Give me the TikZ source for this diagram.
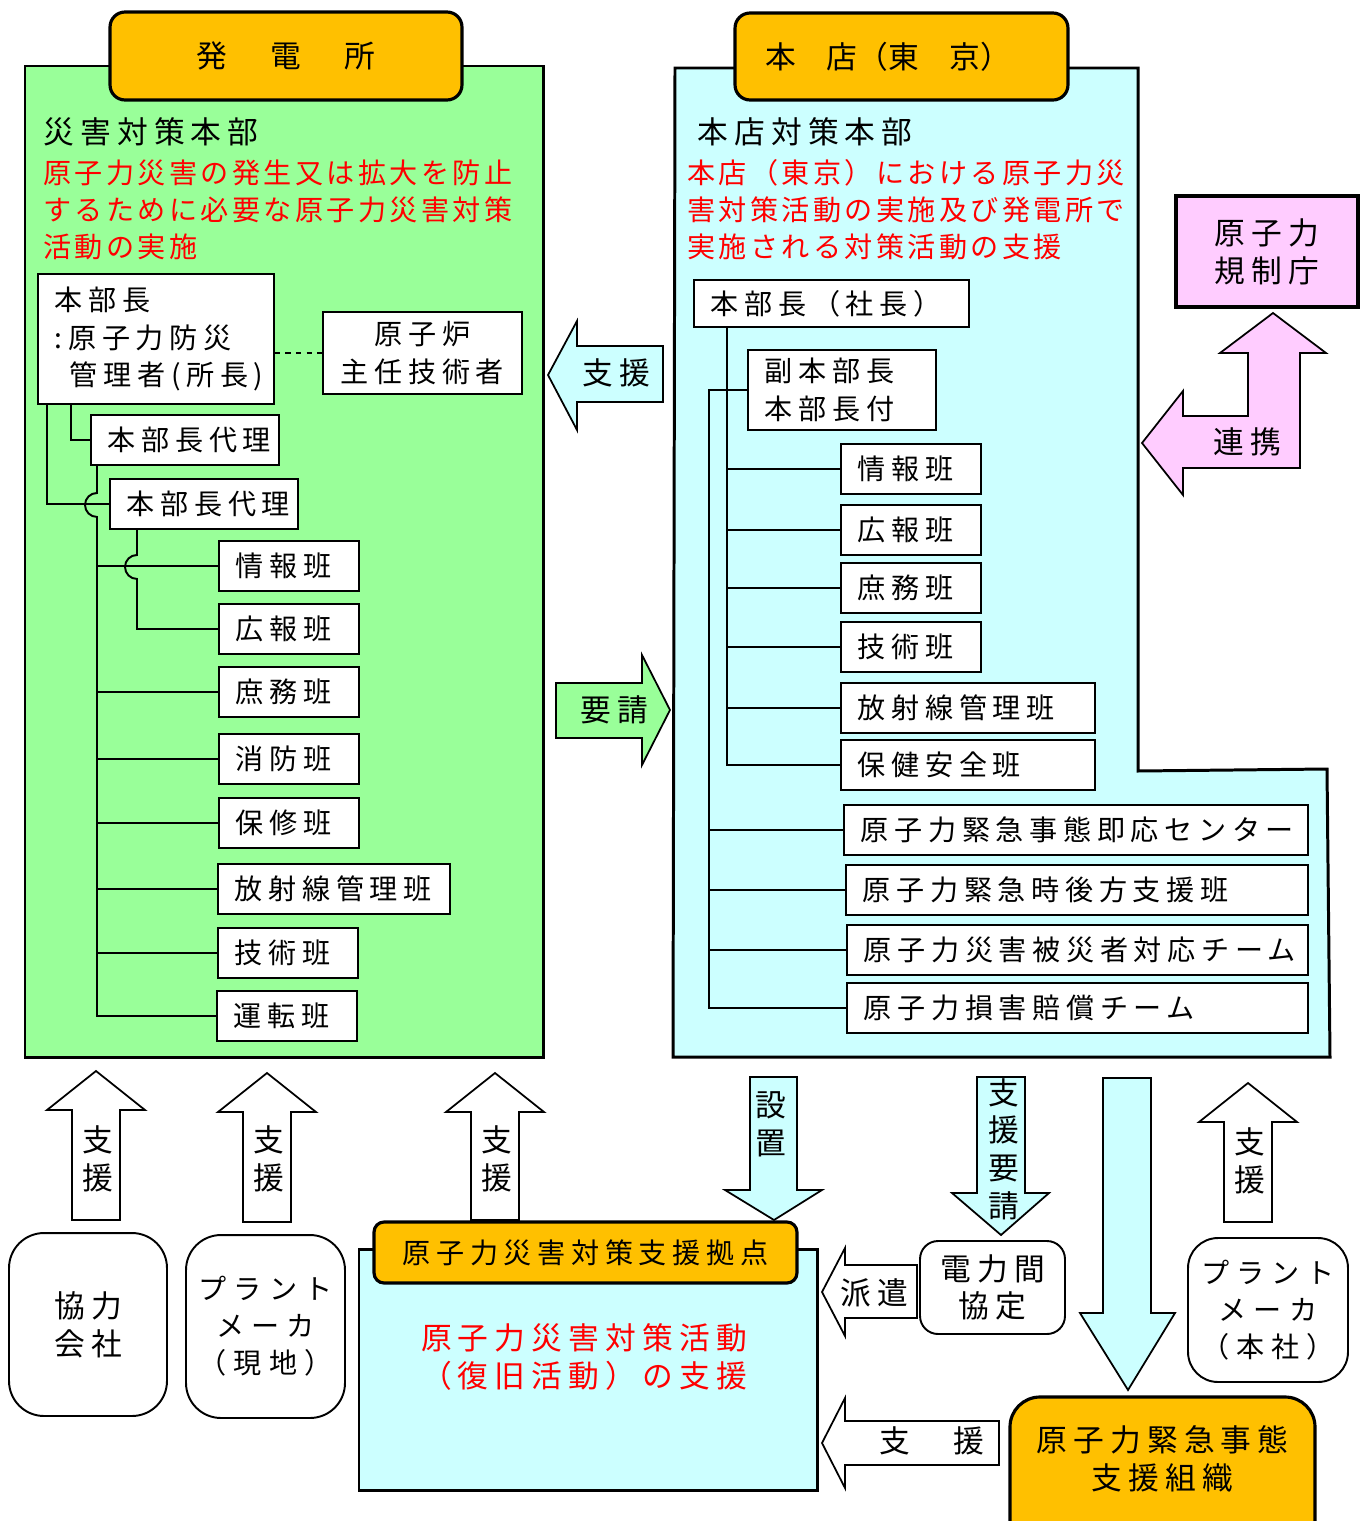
\documentclass[tikz,border=0pt]{standalone}
\usepackage{fontspec}
\setmainfont{Noto Sans CJK JP}
\newfontfamily\jp[LetterSpace=20]{Noto Sans CJK JP}
\newfontfamily\jpred[LetterSpace=12]{Noto Sans CJK JP}
\newfontfamily\jpkana[LetterSpace=25]{Noto Sans CJK JP}
\usepackage{tikz}
\usetikzlibrary{positioning}
\definecolor{PlantGreen}{RGB}{153,255,153}
\definecolor{HQCyan}{RGB}{204,255,255}
\definecolor{TabOrange}{RGB}{255,192,0}
\definecolor{NraPink}{RGB}{255,204,255}

\begin{document}
\begin{tikzpicture}[x=0.02cm, y=-0.02cm,
    lbl/.style={font=\jp\fontsize{16}{21.5}\selectfont},
    big/.style={font=\jp\fontsize{17.5}{21.5}\selectfont},
    plain/.style={font=\jpkana\fontsize{16}{21}\selectfont},
    redtxt/.style={font=\jpred\fontsize{16}{21}\selectfont, text=red, align=left, anchor=west, inner sep=0pt},
    panel/.style={draw, line width=1.7pt},
    tab/.style={draw, fill=TabOrange, line width=1.8pt, rounded corners=0.3cm, big},
    ban/.style={draw, fill=white, line width=1.1pt, minimum height=1cm, inner xsep=0.34cm, inner ysep=0pt, anchor=west, align=left, lbl, text width=#1},
    link/.style={line width=1.1pt},
    blk/.style={draw, line width=1pt},
    rbox/.style={draw, fill=white, line width=1.1pt, rounded corners=0.6cm, align=center, big}]
    \useasboundingbox (0,0) rectangle (1364,1521);

    % Power station
    \draw[panel, fill=PlantGreen] (25,66) rectangle (543,1057);
    \node[tab, minimum width=7.04cm, minimum height=1.76cm] (hatsuden) at (286,56) {発　電　所};
    \node[big, anchor=west, inner sep=0pt] (saigai) at (43,132) {災害対策本部};
    \node[redtxt] (saigaiaim) at (43,210) {原子力災害の発生又は拡大を防止\\するために必要な原子力災害対策\\活動の実施};

    \node[ban=4.04cm, minimum height=2.6cm] (honbu) at (37,339) {本部長\\:原子力防災\\\hspace*{0.3cm}管理者(所長)};
    \node[ban=3.3cm, align=center, minimum height=1.64cm] (gensiro) at (322,353) {原子炉\\主任技術者};
    \node[ban=3.08cm] (dai1) at (90,440) {本部長代理};
    \node[ban=3.08cm] (dai2) at (109,504) {本部長代理};
    \node[ban=2.12cm] (jouhou) at (218,566) {情報班};
    \node[ban=2.12cm] (kouhou) at (218,629) {広報班};
    \node[ban=2.12cm] (shomu) at (218,692) {庶務班};
    \node[ban=2.12cm] (shobou) at (218,759) {消防班};
    \node[ban=2.12cm] (hoshu) at (218,823) {保修班};
    \node[ban=3.96cm] (houkan) at (217,889) {放射線管理班};
    \node[ban=2.12cm] (gijutsu) at (217,953) {技術班};
    \node[ban=2.12cm] (unten) at (216,1016) {運転班};

    % Power station lines
    \coordinate (ltrunk) at (97,465);
    \draw[link, dashed] (gensiro.west -| honbu.east) -- (gensiro.west);
    \draw[link] (honbu.south west) ++(34,0) |- (dai1.west);
    \draw[link] (honbu.south west) ++(10,0) |- (dai2.west);
    \draw[link] (dai1.south -| ltrunk) -- ++(0,27) arc[start angle=90, end angle=270, radius=0.24cm] |- (unten.west);
    \draw[link] (dai2.south west) ++(28,0) -- ++(0,25) arc[start angle=90, end angle=270, radius=0.24cm] |- (kouhou.west);
    \foreach \t in {jouhou,shomu,shobou,hoshu,houkan,gijutsu}
      \draw[link] (\t.west -| ltrunk) -- (\t.west);

    % Head office
    \draw[panel, fill=HQCyan] (675,68) -- (1138,68) -- (1138,771) -- (1327,769) -- (1330,1057) -- (673,1057) -- cycle;
    \node[tab, font=\fontsize{17.5}{21}\selectfont, minimum width=6.66cm, minimum height=1.74cm, text width=5.46cm, align=left, inner xsep=0.6cm] (honten) at (901.5,56.5) {本　店（東　京）};
    \node[big, anchor=west, inner sep=0pt] (taisaku) at (697,132) {本店対策本部};
    \node[redtxt] (taisakuaim) at (687,210) {本店（東京）における原子力災\\害対策活動の実施及び発電所で\\実施される対策活動の支援};

    \node[ban=4.82cm, minimum height=0.94cm] (hq) at (693,303.5) {本部長（社長）};
    \node[ban=3.08cm, minimum height=1.6cm] (fuku) at (747,390) {副本部長\\本部長付};
    \node[ban=2.12cm] (rjouhou) at (840,469) {情報班};
    \node[ban=2.12cm] (rkouhou) at (840,530) {広報班};
    \node[ban=2.12cm] (rshomu) at (840,588) {庶務班};
    \node[ban=2.12cm] (rgijutsu) at (840,647) {技術班};
    \node[ban=4.4cm] (rhoukan) at (840,708) {放射線管理班};
    \node[ban=4.4cm] (rhoken) at (840,765) {保健安全班};
    \node[ban=8.6cm] (sokuou) at (843,830) {原子力緊急事態即応センター};
    \node[ban=8.56cm] (kouhoushien) at (845,890) {原子力緊急時後方支援班};
    \node[ban=8.54cm] (hisai) at (846,950) {原子力災害被災者対応チーム};
    \node[ban=8.54cm] (baisho) at (846,1008) {原子力損害賠償チーム};

    % Head office lines
    \coordinate (rtrunkA) at (727,327);
    \coordinate (rtrunkB) at (709,390);
    \draw[link] (hq.south -| rtrunkA) |- (rhoken.west);
    \foreach \t in {rjouhou,rkouhou,rshomu,rgijutsu,rhoukan}
      \draw[link] (\t.west -| rtrunkA) -- (\t.west);
    \draw[link] (fuku.west) -- (rtrunkB) |- (baisho.west);
    \foreach \t in {sokuou,kouhoushien,hisai}
      \draw[link] (\t.west -| rtrunkB) -- (\t.west);

    % Regulator
    \node[draw, fill=NraPink, line width=1.8pt, minimum width=3.64cm, minimum height=2.22cm, big, align=center] (kisei) at (1267,251.5) {原子力\\規制庁};
    \draw[blk, fill=NraPink] (1273,313) -- (1326,353) -- (1300,353) -- (1300,468) -- (1183,468) -- (1183,495) -- (1142,443) -- (1183,391) -- (1183,416) -- (1248,416) -- (1248,353) -- (1220,353) -- cycle;
    \node[big] (renkei) at (1247,442) {連携};

    % Arrows between station and head office
    \draw[blk, fill=HQCyan] (548,375) -- (577,321) -- (577,346) -- (663,346) -- (663,402) -- (577,402) -- (577,430) -- cycle;
    \node[big] (shienL) at (616,373) {支援};
    \draw[blk, fill=PlantGreen] (556,683) -- (642,683) -- (642,655) -- (670,710) -- (642,765) -- (642,738) -- (556,738) -- cycle;
    \node[big] (yousei) at (614,710) {要請};

    % Support arrows upward
    \foreach \x/\t/\b in {96/1071/1220, 267/1073/1222, 495/1073/1220, 1248/1083/1222} {
      \draw[blk, fill=white] (\x,\t) -- ++(49,39) -- ++(-25,0) -- (\x+24,\b) -- (\x-24,\b) -- (\x-24,\t+39) -- ++(-25,0) -- cycle;
    }
    \node[big, align=center] (up1) at (98,1159) {支\\援};
    \node[big, align=center] (up2) at (269,1159) {支\\援};
    \node[big, align=center] (up3) at (497,1159) {支\\援};
    \node[big, align=center] (up4) at (1250,1161) {支\\援};

    % Bottom organisations
    \node[rbox, minimum width=3.16cm, minimum height=3.66cm, rounded corners=0.7cm] (kyoryoku) at (88,1324.5) {協力\\会社};
    \node[rbox, plain, minimum width=3.18cm, minimum height=3.66cm, rounded corners=0.7cm] (plantL) at (265.5,1326.5) {プラント\\メーカ\\（現地）};
    \draw[panel, fill=HQCyan] (359,1249) rectangle (817,1490);
    \node[tab, lbl, rounded corners=0.2cm, minimum width=8.46cm, minimum height=1.22cm] (kyoten) at (585.5,1252.5) {原子力災害対策支援拠点};
    \node[big, text=red, align=center] (kyotenaim) at (584,1357) {原子力災害対策活動\\（復旧活動）の支援};
    \node[rbox, minimum width=2.9cm, minimum height=1.86cm, rounded corners=0.36cm] (denryoku) at (992.5,1287.5) {電力間\\協定};
    \node[rbox, plain, minimum width=3.2cm, minimum height=2.88cm] (plantR) at (1268,1310) {プラント\\メーカ\\（本社）};
    \draw[draw, fill=TabOrange, line width=1.8pt, rounded corners=0.6cm] (1010,1397) rectangle (1315,1560);
    \node[big, align=center] (kinkyu) at (1162.5,1459) {原子力緊急事態\\支援組織};

    % Bottom arrows
    \draw[blk, fill=HQCyan] (750,1077) -- (797,1077) -- (797,1190) -- (822,1190) -- (774,1220) -- (725,1190) -- (750,1190) -- cycle;
    \node[big, align=center] (secchi) at (771,1124) {設\\置};
    \draw[blk, fill=HQCyan] (977,1077) -- (1025,1077) -- (1025,1193) -- (1049,1193) -- (1001,1235) -- (952,1193) -- (977,1193) -- cycle;
    \node[big, align=center] (shienyousei) at (1004,1149) {支\\援\\要\\請};
    \draw[blk, fill=HQCyan] (1103,1078) -- (1151,1078) -- (1151,1313) -- (1175,1313) -- (1128,1390) -- (1080,1313) -- (1103,1313) -- cycle;
    \draw[blk, fill=white] (822,1292) -- (845,1248) -- (845,1265) -- (917,1265) -- (917,1318) -- (845,1318) -- (845,1336) -- cycle;
    \node[big] (haken) at (874,1293) {派遣};
    \draw[blk, fill=white] (822,1443) -- (845,1398) -- (845,1421) -- (999,1421) -- (999,1465) -- (845,1465) -- (845,1488) -- cycle;
    \node[big] (shienB) at (932,1441) {支　援};
\end{tikzpicture}
\end{document}
